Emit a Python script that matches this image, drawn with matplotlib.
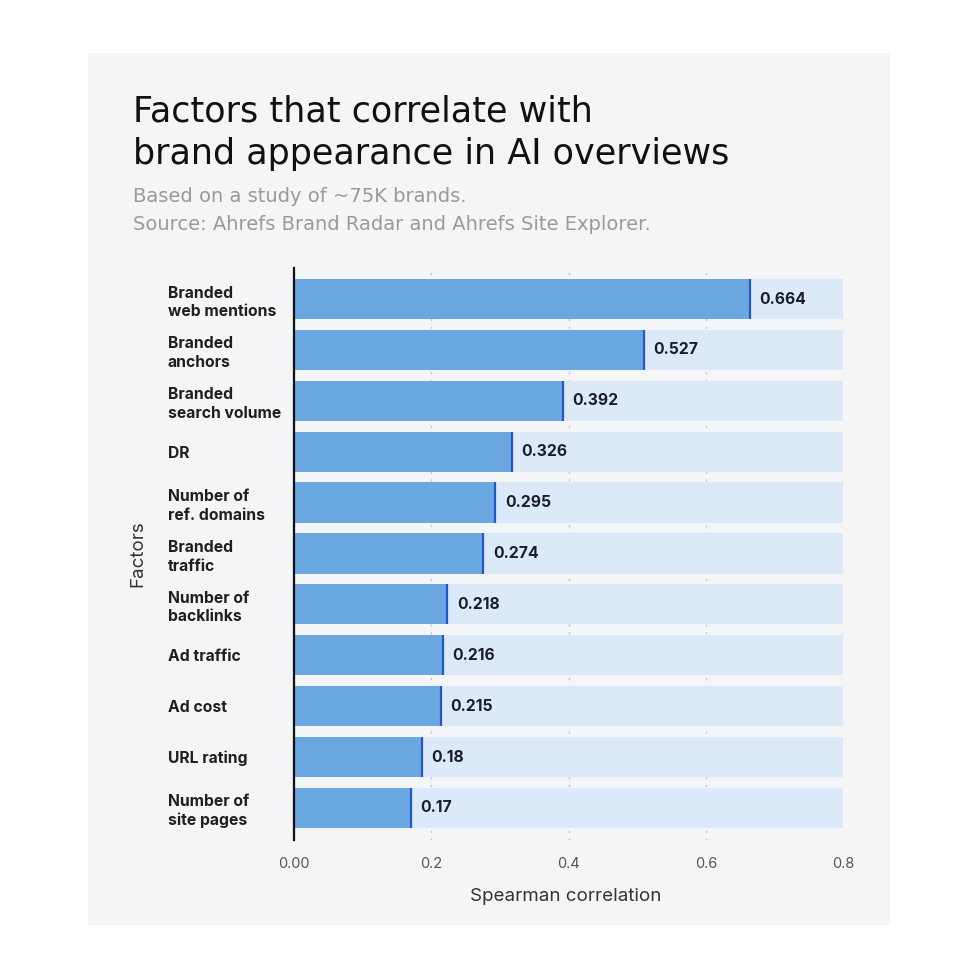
import matplotlib
matplotlib.use("Agg")
import matplotlib.pyplot as plt
from matplotlib.patches import Rectangle

factors = ["Branded\nweb mentions", "Branded\nanchors", "Branded\nsearch volume", "DR",
           "Number of\nref. domains", "Branded\ntraffic", "Number of\nbacklinks", "Ad traffic",
           "Ad cost", "URL rating", "Number of\nsite pages"]
# bar lengths as drawn in the reference
bar_lengths = [0.664, 0.510, 0.392, 0.317, 0.293, 0.276, 0.223, 0.217, 0.214, 0.186, 0.170]
# value labels as printed in the reference
value_labels = ["0.664", "0.527", "0.392", "0.326", "0.295", "0.274", "0.218", "0.216", "0.215", "0.18", "0.17"]
x_max = 0.8
x_ticks = [0.0, 0.2, 0.4, 0.6, 0.8]
x_tick_labels = ["0.00", "0.2", "0.4", "0.6", "0.8"]

plt.rcParams['font.family'] = ['Inter', 'DejaVu Sans']

W = H = 980
fig = plt.figure(figsize=(9.8, 9.8), dpi=100, facecolor="white")
fig.patches.append(Rectangle((88 / W, 1 - 925 / H), (890 - 88) / W, (925 - 53) / H,
                             transform=fig.transFigure, facecolor="#f4f5f7", edgecolor="none", zorder=-10))

ax = fig.add_axes([294 / W, 1 - 840 / H, 549 / W, 572 / H])
ax.set_facecolor("none")

ypos = list(range(len(factors)))
bh = 0.79
ax.barh(ypos, [x_max] * len(ypos), height=bh, color="#dbe9f8", zorder=1)
ax.barh(ypos, bar_lengths, height=bh, color="#6ba8e1", zorder=2)
ax.vlines(bar_lengths, [y - bh / 2 for y in ypos], [y + bh / 2 for y in ypos], color="#2456cc", lw=1.6, zorder=3)

for y, v, lab in zip(ypos, bar_lengths, value_labels):
    ax.annotate(lab, (v, y), xytext=(7, 0), textcoords="offset points", ha="left", va="center",
                fontsize=11.3, fontweight="bold", color="#1b1d2b", zorder=4)

ax.set_xlim(0, x_max)
ax.set_ylim(len(factors) - 0.37, -0.61)
ax.set_xticks(x_ticks)
ax.set_xticklabels(x_tick_labels)
ax.set_yticks(ypos)
ax.set_yticklabels(factors, fontsize=11.3, fontweight="bold", color="#1f1f1f", linespacing=1.3)
for t in ax.get_yticklabels():
    t.set_ha("left")
ax.tick_params(axis="y", length=0, pad=91)
ax.tick_params(axis="x", length=0, pad=12, labelsize=10.5, labelcolor="#555555")

ax.xaxis.grid(True, linestyle=(0, (1.5, 4)), color="#bfc3ca", lw=1)
ax.set_axisbelow(True)

for s in ["top", "right", "bottom"]:
    ax.spines[s].set_visible(False)
ax.spines["left"].set_color("#111111")
ax.spines["left"].set_linewidth(1.6)
ax.spines["left"].set_zorder(5)

ax.set_xlabel("Spearman correlation", fontsize=13.5, color="#333333")
ax.xaxis.set_label_coords(0.495, -0.084)
ax.set_ylabel("Factors", fontsize=13.5, color="#333333")
ax.yaxis.set_label_coords(-0.269, 0.5)

tfont = ['DejaVu Sans']
fig.text(133 / W, 1 - 122 / H, "Factors that correlate with", fontsize=25.2, color="#111111",
         va="baseline", ha="left", family=tfont)
fig.text(133 / W, 1 - 164 / H, "brand appearance in AI overviews", fontsize=25.2, color="#111111",
         va="baseline", ha="left", family=tfont)
fig.text(133 / W, 1 - 202 / H, "Based on a study of ~75K brands.", fontsize=14, color="#9a9a9a",
         va="baseline", ha="left", family=tfont)
fig.text(133 / W, 1 - 230 / H, "Source: Ahrefs Brand Radar and Ahrefs Site Explorer.", fontsize=14,
         color="#9a9a9a", va="baseline", ha="left", family=tfont)

fig.savefig("out.png", dpi=100, facecolor="white")
